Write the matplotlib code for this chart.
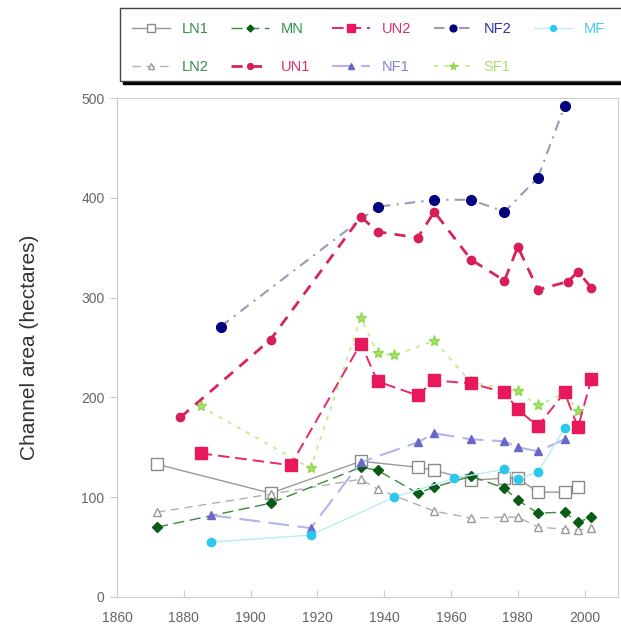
import matplotlib
matplotlib.use("Agg")
import matplotlib.pyplot as plt
from matplotlib.patches import Rectangle

plt.rcParams['font.family'] = ['Liberation Sans', 'DejaVu Sans']

# channel area (hectares) by survey year for each reach
years_ln1 = [1872, 1906, 1933, 1950, 1955, 1966, 1976, 1980, 1986, 1994, 1998]
ln1 = [133, 104, 136, 130, 127, 117, 119, 119, 105, 105, 110]

years_ln2 = [1872, 1906, 1933, 1938, 1955, 1966, 1976, 1980, 1986, 1994, 1998, 2002]
ln2 = [85, 103, 118, 108, 86, 79, 80, 80, 70, 68, 67, 69]

years_mn = [1872, 1906, 1933, 1938, 1950, 1955, 1966, 1976, 1980, 1986, 1994, 1998, 2002]
mn = [70, 94, 130, 127, 104, 110, 121, 109, 97, 84, 85, 75, 80]

years_un1 = [1879, 1906, 1933, 1938, 1950, 1955, 1966, 1976, 1980, 1986, 1995, 1998, 2002]
un1 = [180, 258, 381, 366, 360, 386, 338, 317, 351, 308, 316, 326, 310]

years_un2 = [1885, 1912, 1933, 1938, 1950, 1955, 1966, 1976, 1980, 1986, 1994, 1998, 2002]
un2 = [144, 132, 254, 216, 202, 217, 214, 205, 188, 171, 205, 170, 218]

years_nf1 = [1888, 1918, 1933, 1950, 1955, 1966, 1976, 1980, 1986, 1994]
nf1 = [82, 69, 135, 155, 164, 158, 156, 150, 146, 158]

years_nf2 = [1891, 1938, 1955, 1966, 1976, 1986, 1994]
nf2 = [271, 391, 398, 398, 386, 420, 492]

years_mf = [1888, 1918, 1943, 1961, 1976, 1980, 1986, 1994]
mf = [55, 62, 100, 119, 128, 118, 125, 169]

years_sf1 = [1885, 1918, 1933, 1938, 1943, 1955, 1966, 1980, 1986, 1994, 1998]
sf1 = [191, 129, 280, 244, 242, 257, 215, 206, 192, 204, 186]

W, H = 621, 634
fig = plt.figure(figsize=(W / 100, H / 100), dpi=100)
ax = fig.add_axes([0.1884, 0.0584, 0.8068, 0.787])

h = {}
h['LN1'], = ax.plot(years_ln1, ln1, color='#9a9a9a', lw=1, ls='-', marker='s', ms=9,
                    mfc='white', mec='#8a8a8a', mew=1)
h['SF1'], = ax.plot(years_sf1, sf1, color='#c8ef9c', lw=1.5, ls=(0, (2, 3)), marker='*', ms=8,
                    mfc='#a6e36a', mec='#8fd850')
h['LN2'], = ax.plot(years_ln2, ln2, color='#b0b0b0', lw=1, ls=(0, (6, 4)), marker='^', ms=6,
                    mfc='white', mec='#9a9a9a')
h['MN'], = ax.plot(years_mn, mn, color='#3a8a3a', lw=1, ls=(0, (8, 4)), marker='D', ms=5,
                   mfc='#0b5a16', mec='#0b5a16')
h['NF1'], = ax.plot(years_nf1, nf1, color='#b4b4ec', lw=1.5, ls=(0, (10, 4)), marker='^', ms=6,
                    mfc='#6868c8', mec='#6868c8')
h['MF'], = ax.plot(years_mf, mf, color='#b8ecf8', lw=1, ls='-', marker='o', ms=6,
                   mfc='#2cc8ec', mec='#2cc8ec')
h['UN2'], = ax.plot(years_un2, un2, color='#e8286a', lw=1.4, ls=(0, (6, 3)), marker='s', ms=9,
                    mfc='#e8185a', mec='#e8185a')
h['NF2'], = ax.plot(years_nf2, nf2, color='#9a9ab8', lw=1.5, ls=(0, (5, 3, 1, 3)), marker='o', ms=7,
                    mfc='#00007f', mec='#00007f')
h['UN1'], = ax.plot(years_un1, un1, color='#d8245c', lw=2, ls=(0, (4, 3)), marker='o', ms=6,
                    mfc='#d81e56', mec='#d81e56')

ax.set_xlim(1860, 2010)
ax.set_ylim(0, 500)
ax.set_xticks(range(1860, 2001, 20))
ax.set_yticks(range(0, 501, 100))
for s in ax.spines.values():
    s.set_color('#cccccc')
ax.tick_params(axis='x', direction='in', length=5, color='#cccccc', labelsize=10,
               labelcolor='#666666', pad=10)
ax.tick_params(axis='y', direction='out', length=5, color='#cccccc', labelsize=10,
               labelcolor='#666666', pad=4)
ax.set_ylabel('Channel area (hectares)', fontsize=15, color='#333333', labelpad=30)

# legend box runs off the right edge, with a solid black drop shadow
x0, y0, x1, y1 = 120, 8, 650, 81
fig.patches.append(Rectangle((x0 / W + 3 / W, 1 - y1 / H - 3 / H), (x1 - x0) / W, (y1 - y0) / H,
                             transform=fig.transFigure, facecolor='black', edgecolor='black',
                             zorder=0))
fig.patches.append(Rectangle((x0 / W, 1 - y1 / H), (x1 - x0) / W, (y1 - y0) / H,
                             transform=fig.transFigure, facecolor='white', edgecolor='#444444',
                             lw=1, zorder=1))

# legend entries, filled column by column
order = ['LN1', 'LN2', 'MN', 'UN1', 'UN2', 'NF1', 'NF2', 'SF1', 'MF']
text_colors = {'LN1': '#2f8f4a', 'LN2': '#2f8f4a', 'MN': '#2f8f4a', 'UN1': '#e0306a',
               'UN2': '#e0306a', 'NF1': '#8080d8', 'NF2': '#3030a8', 'SF1': '#a8e070',
               'MF': '#48c8e8'}
leg = fig.legend([h[k] for k in order], order, ncol=5, loc='upper left',
                 bbox_to_anchor=(118 / W, 1 - y0 / H), borderaxespad=0, fontsize=10.5,
                 handlelength=2.6, handletextpad=0.8, labelspacing=1.65, borderpad=0.95,
                 columnspacing=1.55, markerscale=0.7, frameon=False)
for txt, k in zip(leg.get_texts(), order):
    txt.set_color(text_colors[k])

fig.savefig('out.png', dpi=100)
